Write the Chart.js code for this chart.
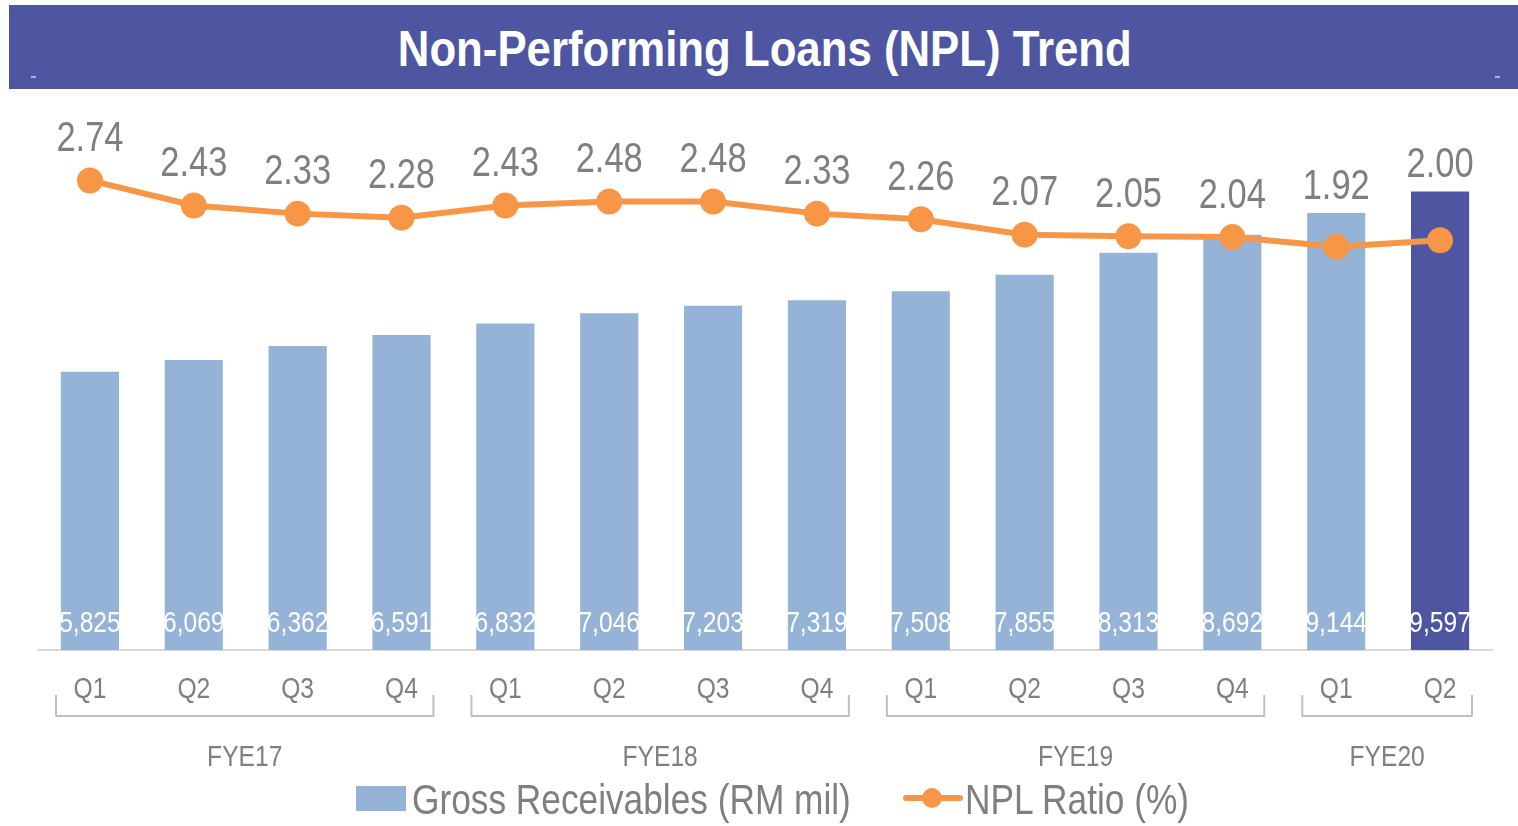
<!DOCTYPE html>
<html>
<head>
<meta charset="utf-8">
<script src="https://cdn.jsdelivr.net/npm/chart.js@4"></script>
<style>
  body { margin: 0; background: #fff; width: 1518px; height: 826px; overflow: hidden; position: relative;
         font-family: "Liberation Sans", Arial, sans-serif; }
  .banner { position: absolute; left: 9px; top: 5px; width: 1509px; height: 84px; background: #4E56A2; }
  .banner span { position: absolute; left: 0; width: 1509px; top: 0; color: #fff; font-weight: bold; font-size: 50px;
                 text-align: center; line-height: 88px; transform: scaleX(0.875); transform-origin: 765px 0; }
  .banner i { position: absolute; top: 71px; width: 5px; height: 2px; background: #a9aee0; }
  .wrap { position: absolute; left: 0; top: 90px; width: 1518px; height: 736px; }
  .legend { position: absolute; top: 774px; left: 0; width: 1518px; height: 50px; color: #7f7f7f; font-size: 43px; }
  .legend .box { position: absolute; left: 356px; top: 12px; width: 50px; height: 25px; background: #95B3D7; }
  .legend .txt { position: absolute; top: 0; line-height: 50px; white-space: nowrap; transform: scaleX(0.82); transform-origin: 0 0; }
  .legend .ln { position: absolute; left: 903px; top: 21px; width: 60px; height: 6px; background: #F79646; border-radius: 3px; }
  .legend .ln::after { content: ""; position: absolute; left: 19px; top: -7px; width: 20px; height: 20px;
                       border-radius: 50%; background: #F79646; }
</style>
</head>
<body>
<div class="banner"><i style="left:22px"></i><span>Non-Performing Loans (NPL) Trend</span><i style="left:1486px"></i></div>
<div class="wrap"><canvas id="npl"></canvas></div>
<div class="legend">
  <span class="box"></span><span class="txt" style="left:412px">Gross Receivables (RM mil)</span>
  <span class="ln"></span><span class="txt" style="left:965px">NPL Ratio (%)</span>
</div>
<script>
const quarters = ['Q1', 'Q2', 'Q3', 'Q4', 'Q1', 'Q2', 'Q3', 'Q4', 'Q1', 'Q2', 'Q3', 'Q4', 'Q1', 'Q2'];
const years = ['FYE17', 'FYE18', 'FYE19', 'FYE20'];
const quartersPerYear = [4, 4, 4, 2];
const grossReceivables = [5825, 6069, 6362, 6591, 6832, 7046, 7203, 7319, 7508, 7855, 8313, 8692, 9144, 9597];
const nplRatio = [2.74, 2.43, 2.33, 2.28, 2.43, 2.48, 2.48, 2.33, 2.26, 2.07, 2.05, 2.04, 1.92, 2.00];

const FONT = '"Liberation Sans", Arial, sans-serif';
const GREY = '#7f7f7f';
const NARROW = 0.82;
const barColours = grossReceivables.map((v, i) => i === grossReceivables.length - 1 ? '#4E56A2' : '#95B3D7');

// canvas has no narrow face installed, so squeeze the text horizontally
function narrowText(ctx, text, x, y) {
    ctx.save();
    ctx.translate(x, y);
    ctx.scale(NARROW, 1);
    ctx.fillText(text, 0, 0);
    ctx.restore();
}

const labelsPlugin = {
    id: 'labels',
    afterDatasetsDraw(chart) {
        const ctx = chart.ctx;
        const bars = chart.getDatasetMeta(0).data;
        const pts = chart.getDatasetMeta(1).data;
        const area = chart.chartArea;
        ctx.save();
        ctx.textAlign = 'center';
        ctx.textBaseline = 'middle';
        ctx.fillStyle = '#fff';
        ctx.font = '30px ' + FONT;
        bars.forEach((b, i) => {
            narrowText(ctx, grossReceivables[i].toLocaleString('en-US'), b.x, area.bottom - 26);
        });
        ctx.fillStyle = GREY;
        ctx.font = '42px ' + FONT;
        pts.forEach((p, i) => {
            const y = Math.min(p.y - 41, bars[i].y - 26);
            narrowText(ctx, nplRatio[i].toFixed(2), p.x, y);
        });
        ctx.restore();
    },
    afterDraw(chart) {
        const ctx = chart.ctx;
        const xs = chart.scales.x;
        const slot = xs.getPixelForValue(1) - xs.getPixelForValue(0);
        ctx.save();
        ctx.fillStyle = GREY;
        ctx.font = '30px ' + FONT;
        ctx.textAlign = 'center';
        ctx.textBaseline = 'middle';
        quarters.forEach((q, i) => narrowText(ctx, q, xs.getPixelForValue(i), 600));
        ctx.strokeStyle = '#bfbfbf';
        ctx.lineWidth = 2;
        ctx.lineJoin = 'round';
        let start = 0;
        years.forEach((yr, g) => {
            const end = start + quartersPerYear[g] - 1;
            const x0 = xs.getPixelForValue(start) - slot / 2 + 18;
            const x1 = xs.getPixelForValue(end) + slot / 2 - 20;
            ctx.beginPath();
            ctx.moveTo(x0, 605);
            ctx.lineTo(x0, 626);
            ctx.lineTo(x1, 626);
            ctx.lineTo(x1, 605);
            ctx.stroke();
            narrowText(ctx, yr, (x0 + x1) / 2, 668);
            start = end + 1;
        });
        ctx.restore();
    }
};

new Chart(document.getElementById('npl'), {
    type: 'bar',
    data: {
        labels: quarters,
        datasets: [{
            type: 'bar',
            label: 'Gross Receivables (RM mil)',
            data: grossReceivables,
            backgroundColor: barColours,
            categoryPercentage: 1,
            barPercentage: 0.56,
            yAxisID: 'y',
            order: 2
        }, {
            type: 'line',
            label: 'NPL Ratio (%)',
            data: nplRatio,
            borderColor: '#F79646',
            backgroundColor: '#F79646',
            borderWidth: 6,
            pointRadius: 10,
            pointHoverRadius: 10,
            yAxisID: 'y1',
            order: 1
        }]
    },
    options: {
        responsive: true,
        maintainAspectRatio: false,
        animation: false,
        layout: { padding: { left: 38, right: 26, top: 20, bottom: 0 } },
        plugins: { legend: { display: false }, tooltip: { enabled: false } },
        scales: {
            x: {
                grid: { display: false, drawTicks: false },
                border: { color: '#d9d9d9', width: 2 },
                ticks: { display: false },
                afterFit(scale) { scale.height = 176; }
            },
            y: { display: false, min: 0, max: 11300 },
            y1: { display: false, min: -3.06, max: 3.61 }
        }
    },
    plugins: [labelsPlugin]
});
</script>
</body>
</html>
